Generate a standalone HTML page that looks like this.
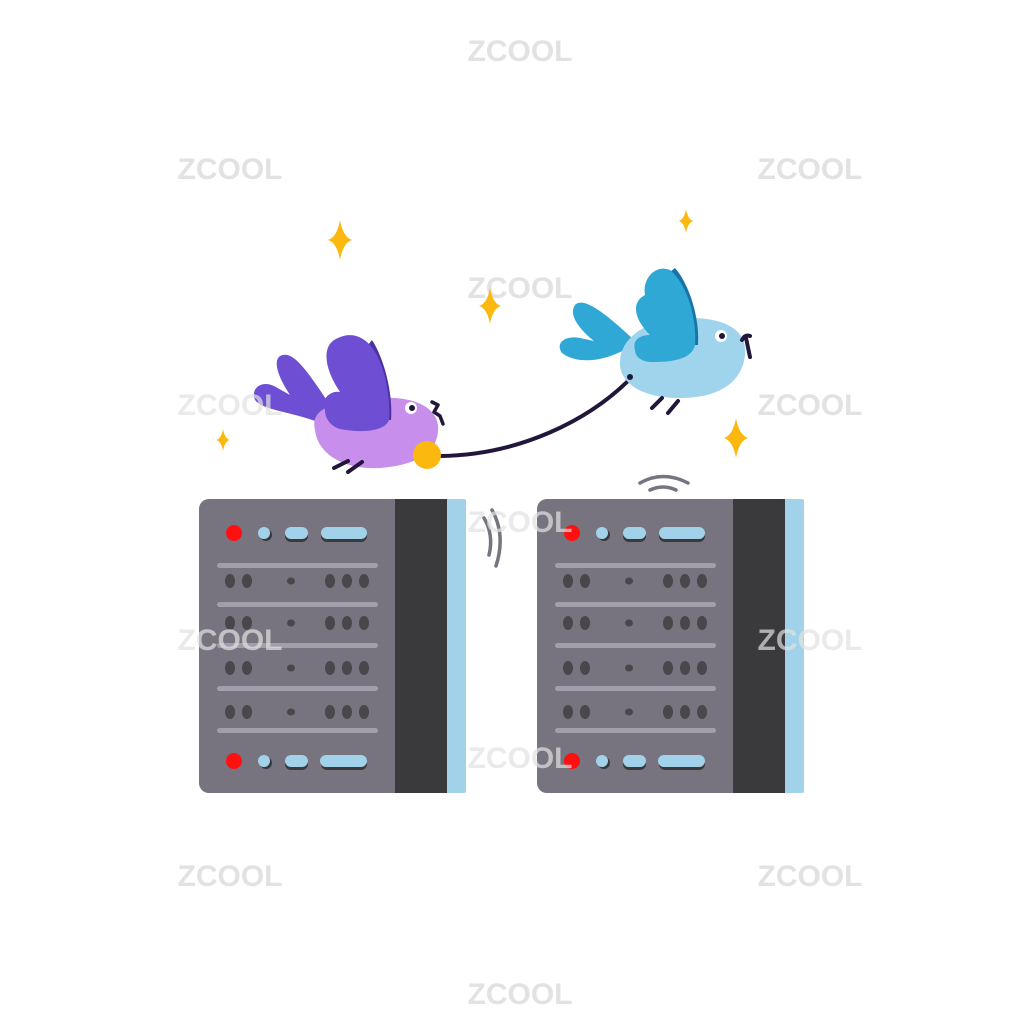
<!DOCTYPE html>
<html><head><style>
html,body{margin:0;padding:0;background:#fff;width:1024px;height:1024px;overflow:hidden}
svg{display:block}
.wm{font-family:"Liberation Sans",sans-serif;font-weight:bold;font-size:30px;fill:#e2e2e2;text-anchor:middle}
</style></head><body>
<svg width="1024" height="1024" viewBox="0 0 1024 1024" xmlns="http://www.w3.org/2000/svg">
<defs>
<g id="server">
  <rect x="440" y="499" width="26" height="294" rx="2" fill="#a2d2ea"/>
  <rect x="380" y="499" width="67" height="294" fill="#3a393b"/>
  <rect x="199" y="499" width="196" height="294" rx="10" fill="#77737f"/>
  <rect x="385" y="499" width="10" height="294" fill="#77737f"/>
  <g fill="#3a393b">
    <circle cx="266" cy="535" r="6"/><rect x="285" y="530" width="23" height="12" rx="6"/><rect x="321" y="530" width="46" height="12" rx="6"/>
    <circle cx="266" cy="763" r="6"/><rect x="285" y="758" width="23" height="12" rx="6"/><rect x="321" y="758" width="46" height="12" rx="6"/>
  </g>
  <circle cx="234" cy="533" r="8" fill="#ff1010"/>
  <circle cx="234" cy="761" r="8" fill="#ff1010"/>
  <g fill="#a2d2ea">
    <circle cx="264" cy="533" r="6"/><rect x="285" y="527" width="23" height="12" rx="6"/><rect x="321" y="527" width="46" height="12" rx="6"/>
    <circle cx="264" cy="761" r="6"/><rect x="285" y="755" width="23" height="12" rx="6"/><rect x="320" y="755" width="47" height="12" rx="6"/>
  </g>
  <g fill="#a29fad">
    <rect x="217" y="563" width="161" height="5" rx="2.5"/>
    <rect x="217" y="602" width="161" height="5" rx="2.5"/>
    <rect x="217" y="643" width="161" height="5" rx="2.5"/>
    <rect x="217" y="686" width="161" height="5" rx="2.5"/>
    <rect x="217" y="728" width="161" height="5" rx="2.5"/>
  </g>
  <g fill="#48474b" id="dotrow">
    <ellipse cx="230" cy="581" rx="5" ry="7"/><ellipse cx="247" cy="581" rx="5" ry="7"/><ellipse cx="291" cy="581" rx="4" ry="3.5"/>
    <ellipse cx="330" cy="581" rx="5" ry="7"/><ellipse cx="347" cy="581" rx="5" ry="7"/><ellipse cx="364" cy="581" rx="5" ry="7"/>
  </g>
  <use href="#dotrow" y="42"/><use href="#dotrow" y="87"/><use href="#dotrow" y="131"/>
</g>
<path id="spark" d="M0 -20 Q3 -3 12 0 Q3 3 0 20 Q-3 3 -12 0 Q-3 -3 0 -20 Z" fill="#fbb80f"/>
</defs>

<g class="wm">
<text x="520" y="61">ZCOOL</text>
<text x="230" y="179">ZCOOL</text><text x="810" y="179">ZCOOL</text>
<text x="520" y="298">ZCOOL</text>
<text x="810" y="415">ZCOOL</text>
<text x="230" y="886">ZCOOL</text><text x="810" y="886">ZCOOL</text>
<text x="520" y="1004">ZCOOL</text>
</g>

<use href="#server"/>
<use href="#server" x="338"/>

<g fill="none" stroke="#77737f" stroke-width="3.5" stroke-linecap="round">
  <path d="M484 518 Q494 535 489 555"/>
  <path d="M492 510 Q506 535 496 566"/>
  <path d="M640 483 Q663 470 688 483"/>
  <path d="M650 490 Q663 484 676 490"/>
</g>

<use href="#spark" transform="translate(340,240)"/>
<use href="#spark" transform="translate(490,306) scale(0.9,0.9)"/>
<use href="#spark" transform="translate(686,221) scale(0.6,0.6)"/>
<use href="#spark" transform="translate(223,440) scale(0.55,0.55)"/>
<use href="#spark" transform="translate(736,438)"/>

<path d="M440 456 C520 455 590 420 632 377" fill="none" stroke="#22173a" stroke-width="4" stroke-linecap="round"/>

<!-- purple bird -->
<path d="M318 422 C292 412 262 410 255 400 C250 388 262 380 274 386 L290 395 C280 380 272 362 280 356 C292 350 304 366 328 402 Z" fill="#6e4fd3"/>
<path d="M315 430 C310 410 330 400 380 398 C410 396 435 405 438 425 C440 450 420 465 380 468 C345 470 318 455 315 430 Z" fill="#c78feb"/>
<circle cx="427" cy="455" r="14" fill="#fbb80f"/>
<path d="M372 340 C385 360 393 395 391 420 L385 420 C385 395 378 365 368 345 Z" fill="#4a33a0"/>
<path d="M325 410 C320 400 330 390 340 392 C325 370 320 345 338 338 C350 332 362 336 370 345 C385 362 391 400 389 420 C385 432 360 433 340 429 C330 426 325 418 325 410 Z" fill="#6e4fd3"/>
<circle cx="411" cy="408" r="6" fill="#fff"/><circle cx="412" cy="408" r="3" fill="#22173a"/>
<path d="M432 402 L438 405 L434 412 L440 416 L443 424" fill="none" stroke="#22173a" stroke-width="3.5" stroke-linecap="round" stroke-linejoin="round"/>
<g stroke="#22173a" stroke-width="4" stroke-linecap="round">
  <path d="M334 468 L348 461"/><path d="M348 472 L362 462"/>
</g>

<!-- blue bird -->
<path d="M628 348 C600 364 575 363 562 353 C555 343 565 335 580 338 L594 341 C580 330 568 315 575 305 C582 298 598 306 634 340 Z" fill="#2fa8d6"/>
<path d="M620 360 C622 335 650 318 690 318 C725 318 748 330 745 355 C742 385 715 398 680 398 C645 398 618 385 620 360 Z" fill="#a0d4ec"/>
<path d="M675 268 C690 285 700 320 698 345 L692 345 C693 320 685 290 670 272 Z" fill="#1a73a8"/>
<path d="M635 350 C632 340 640 335 650 335 C635 320 630 303 645 295 C642 278 656 264 670 270 C688 285 697 320 695 345 C692 360 670 362 652 362 C642 362 635 357 635 350 Z" fill="#2fa8d6"/>
<circle cx="721" cy="336" r="6" fill="#fff"/><circle cx="722" cy="336" r="3" fill="#22173a"/>
<path d="M742 340 Q745 334 750 336 M746 338 L750 357" fill="none" stroke="#22173a" stroke-width="4" stroke-linecap="round"/>
<g stroke="#22173a" stroke-width="4" stroke-linecap="round">
  <path d="M652 408 L662 398"/><path d="M668 413 L678 401"/>
</g>
<circle cx="630" cy="377" r="3" fill="#22173a"/>

<g class="wm" opacity="0.7">
<text x="230" y="415">ZCOOL</text>
<text x="520" y="532">ZCOOL</text>
<text x="230" y="650">ZCOOL</text>
<text x="810" y="650">ZCOOL</text>
<text x="520" y="768">ZCOOL</text>
</g>
</svg>
</body></html>
